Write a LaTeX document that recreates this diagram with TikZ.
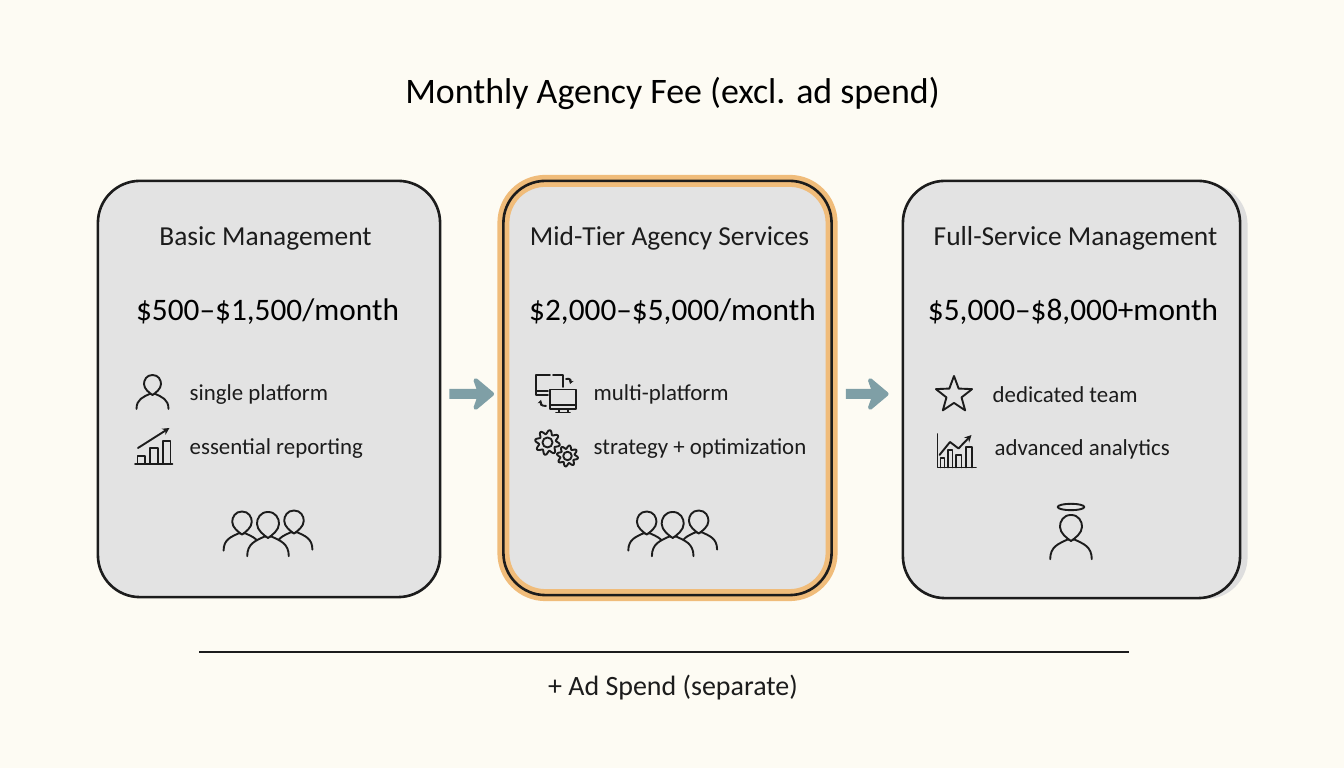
\documentclass[tikz,border=0pt]{standalone}
\usepackage{fontspec}
\setmainfont{Carlito}
\usetikzlibrary{arrows.meta}
\usetikzlibrary{shapes.geometric}
\definecolor{pagecream}{HTML}{FDFBF3}
\definecolor{boxgray}{HTML}{E3E3E3}
\definecolor{shadowgray}{HTML}{DEDEDE}
\definecolor{midorange}{HTML}{F0BC7A}
\definecolor{flowteal}{HTML}{7F9FA6}
\definecolor{inkblack}{HTML}{1C1C1C}
\tikzset{
  cardbox/.style={draw=inkblack, line width=.026cm, rounded corners=.42cm, inner sep=0pt},
  headtext/.style={anchor=base, text=inkblack, font=\fontsize{7.8}{9}\selectfont},
  pricetext/.style={anchor=base, text=black, font=\fontsize{8.9}{10}\selectfont},
  itemtext/.style={anchor=base west, inner sep=0pt, text=inkblack, font=\fontsize{6.5}{8}\selectfont},
  icon/.style={draw=inkblack, line width=.019cm, line cap=round, line join=round},
  flowarrow/.style={draw=flowteal, line width=.1cm, -{Stealth[length=.24cm,width=.4cm,inset=.07cm,round]}},
  personicon/.pic={
    \filldraw[icon, fill=boxgray] (-16,14) .. controls (-16,4) and (-9,2) .. (-3,-1)
      -- (3,-1) .. controls (9,2) and (16,4) .. (16,14);
    \filldraw[icon, fill=boxgray] (0,-20) .. controls (6,-20) and (8.5,-15) .. (8.5,-11)
      .. controls (8.5,-6) and (3,-2) .. (0,0) .. controls (-3,-2) and (-8.5,-6) .. (-8.5,-11)
      .. controls (-8.5,-15) and (-6,-20) .. (0,-20);
  },
  teamicon/.pic={
    \pic[scale=1.15] at (-26,-3.5) {personicon};
    \pic[scale=1.15] at (26,-4.5) {personicon};
    \pic[scale=1.3] at (0,0) {personicon};
  },
  gearicon/.pic={
    \draw[icon] plot[domain=0:360, samples=121] (\x:{10.5+2*sin(8*\x)}) -- cycle;
    \draw[icon] (0,0) circle (5);
  }
}
\begin{document}
\begin{tikzpicture}[x=.01cm, y=-.01cm]
\fill[pagecream] (0,0) rectangle (1344,768);
\useasboundingbox (0,0) rectangle (1344,768);
\node (pagetitle) at (672.5,104) [anchor=base, text=black, font=\fontsize{10.2}{12}\selectfont]{Monthly Agency Fee (excl. ad spend)};
\node (fullshadow) at (1075,391) [cardbox, draw=none, fill=shadowgray, minimum width=3.45cm, minimum height=4.16cm]{};
\node (basic) at (269,389) [cardbox, fill=boxgray, minimum width=3.42cm, minimum height=4.16cm]{};
\node (midtier) at (667.5,388) [cardbox, preaction={fill=boxgray, draw=midorange, line width=.12cm}, minimum width=3.28cm, minimum height=4.14cm]{};
\node (fullservice) at (1071.5,389.5) [cardbox, fill=boxgray, minimum width=3.37cm, minimum height=4.17cm]{};
\node (basichead) at (265.5,246) [headtext]{Basic Management};
\node (midhead) at (669.5,246) [headtext]{Mid-Tier Agency Services};
\node (fullhead) at (1075.5,246) [headtext]{Full-Service Management};
\node (basicprice) at (267.5,321) [pricetext]{\$500–\$1,500/month};
\node (midprice) at (672.5,321) [pricetext]{\$2,000–\$5,000/month};
\node (fullprice) at (1073,321) [pricetext]{\$5,000–\$8,000+month};
\node (singleitem) at (189,401) [itemtext]{single platform};
\node (reportitem) at (189,455) [itemtext]{essential reporting};
\node (multiitem) at (593,401) [itemtext]{multi-platform};
\node (strategyitem) at (593,455) [itemtext]{strategy + optimization};
\node (teamitem) at (992,403) [itemtext]{dedicated team};
\node (analyticsitem) at (994,456) [itemtext]{advanced analytics};
\draw[flowarrow, shorten <=.08cm, shorten >=.08cm] ([yshift=-.05cm]basic.east)--([yshift=-.06cm]midtier.west);
\draw[flowarrow, shorten <=.13cm, shorten >=.13cm] ([yshift=-.06cm]midtier.east)--([yshift=-.045cm]fullservice.west);
\pic at (152.5,395) {personicon};
\draw[icon] (135,464)--(172.5,464);
\draw[icon] (137.5,464)--(137.5,456)--(145,456)--(145,464);
\draw[icon] (150,464)--(150,448)--(158,448)--(158,464);
\draw[icon] (163,464)--(163,441)--(170.5,441)--(170.5,464);
\draw[icon, -{Stealth[length=.07cm,width=.07cm]}] (138,448)--(169.5,428);
\pic at (268,538) {teamicon};
\draw[icon] (550,375)--(536,375)--(536,395)--(548,395);
\draw[icon] (536,391)--(548,391);
\draw[icon] (553,375)--(563,375)--(563,387);
\draw[icon] (550,389.5) rectangle (576,409);
\draw[icon] (550,405)--(576,405);
\draw[icon] (559,409)--(559,412) (568,409)--(568,412) (556,412.5)--(570,412.5);
\draw[icon, -{Stealth[length=.04cm,width=.05cm]}] (566,379) .. controls (571,378) and (571,381) .. (570,384);
\draw[icon, -{Stealth[length=.04cm,width=.05cm]}] (546,406) .. controls (541,406) and (540,404) .. (541,400);
\pic at (547.5,442.5) {gearicon};
\pic[scale=.85] at (567.5,456) {gearicon};
\pic at (672.7,538) {teamicon};
\node (starmark) at (954,395) [icon, star, star points=5, star point ratio=2.4, minimum size=.38cm, inner sep=0pt]{};
\draw[icon] (937.5,434)--(937.5,467.5)--(976,467.5);
\draw[icon] (940.5,467.5)--(940.5,458)--(944.5,458)--(944.5,467.5);
\draw[icon] (948,467.5)--(948,450)--(952.5,450)--(952.5,467.5);
\draw[icon] (956,467.5)--(956,455)--(961.5,455)--(961.5,467.5);
\draw[icon] (966,467.5)--(966,447)--(972,447)--(972,467.5);
\draw[icon, -{Stealth[length=.07cm,width=.07cm]}] (939.5,455)--(950,442)--(958.5,448.5)--(971.5,435);
\draw[icon] (1071,507) ellipse [x radius=13.3, y radius=3.2];
\pic[scale=1.3] at (1071,541) {personicon};
\coordinate (ruleleft) at (199,652);
\coordinate (ruleright) at (1129,652);
\draw[draw=inkblack, line width=.02cm] (ruleleft)--(ruleright);
\node (adspend) at (673,696) [anchor=base, text=inkblack, font=\fontsize{7.95}{9}\selectfont]{+ Ad Spend (separate)};
\end{tikzpicture}
\end{document}
